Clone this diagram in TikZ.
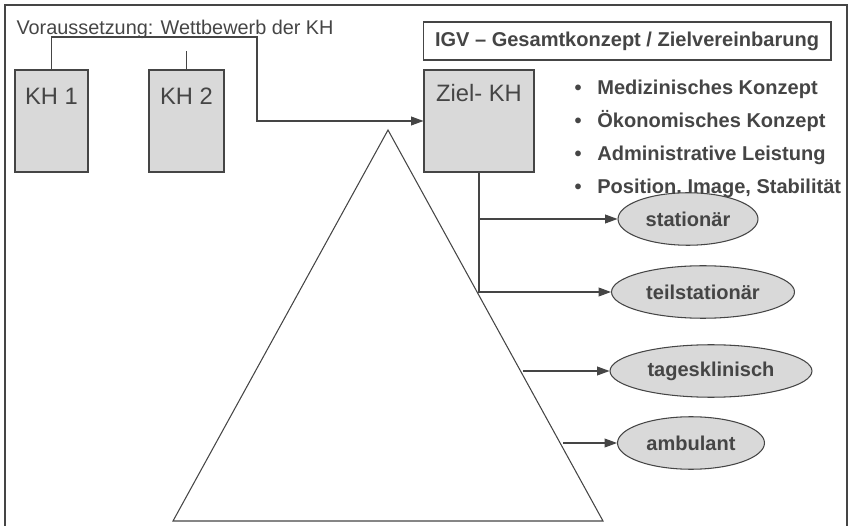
\documentclass[tikz,border=0pt]{standalone}
\usepackage{fontspec}
\setmainfont{Liberation Sans}
\usetikzlibrary{shapes.geometric,arrows.meta}
\definecolor{linegray}{HTML}{454545}
\definecolor{boxgray}{HTML}{D9D9D9}

\begin{document}
\begin{tikzpicture}[x=0.02cm, y=-0.02cm, line width=0.6pt, color=linegray,
  khbox/.style={draw, fill=boxgray, inner sep=0, minimum height=2.04cm},
  khtext/.style={inner sep=0, font=\fontsize{13.5}{15}\selectfont},
  kreis/.style={ellipse, draw, fill=boxgray, inner sep=0, minimum height=1.05cm, font=\bfseries\fontsize{11.4}{13}\selectfont},
  punkt/.style={anchor=base west, inner sep=0, font=\bfseries\fontsize{11.4}{13}\selectfont},
  pfeil/.style={-{Triangle[length=7pt,width=5pt]}}]
\useasboundingbox (0,0) rectangle (851,526);
\draw (5,526) |- (847,5) -- (847,526);
\node[anchor=base west, inner sep=0, font=\fontsize{11.3}{13}\selectfont] (vor) at (16,35) {Voraussetzung: Wettbewerb der KH};
\node[khbox, minimum width=1.46cm] (kh1) at (51.5,121) {};
\node[khbox, minimum width=1.5cm] (kh2) at (186.5,121) {};
\node[khbox, minimum width=2.2cm] (ziel) at (479,121) {};
\node[khtext] (kh1t) at ([yshift=-0.54cm]kh1.north) {KH 1};
\node[khtext] (kh2t) at ([yshift=-0.54cm]kh2.north) {KH 2};
\node[khtext] (zielt) at ([yshift=-0.47cm]ziel.north) {Ziel- KH};
\node[draw, fill=white, inner sep=0, minimum width=8.16cm, minimum height=0.76cm, font=\bfseries\fontsize{11.4}{13}\selectfont] (igv) at (627,41) {IGV -- Gesamtkonzept / Zielvereinbarung};
\node[punkt] (p1) at (574,95) {\textbullet\hspace{9pt}Medizinisches Konzept};
\node[punkt] (p2) at (574,128) {\textbullet\hspace{9pt}Ökonomisches Konzept};
\node[punkt] (p3) at (574,161) {\textbullet\hspace{9pt}Administrative Leistung};
\node[punkt] (p4) at (574,194) {\textbullet\hspace{9pt}Position, Image, Stabilität};
% triangle
\coordinate (top) at (388,130);
\coordinate (bl) at (173,521);
\coordinate (br) at (603,521);
\draw (top) -- (br) -- (bl) -- cycle;
% forms
\node[kreis, minimum width=2.8cm] (stat) at (688,219) {stationär};
\node[kreis, minimum width=3.66cm] (teil) at (703,292) {teilstationär};
\node[kreis, minimum width=4.04cm] (tages) at (711,371) {tagesklinisch};
\node[kreis, minimum width=2.94cm] (amb) at (691,443) {ambulant};
\coordinate (bend) at (257,37);
\coordinate (t3) at (523,371);
\coordinate (t4) at (563,443);
\draw[pfeil] (kh1.north) |- (bend) |- (ziel.west);
\draw (kh2.north) -- ++(0,-18);
\draw[pfeil] (ziel.south) |- (teil.west);
\draw[pfeil] (ziel.south |- stat.west) -- (stat.west);
\draw[pfeil] (t3) -- (tages.west);
\draw[pfeil] (t4) -- (amb.west);
\end{tikzpicture}
\end{document}
